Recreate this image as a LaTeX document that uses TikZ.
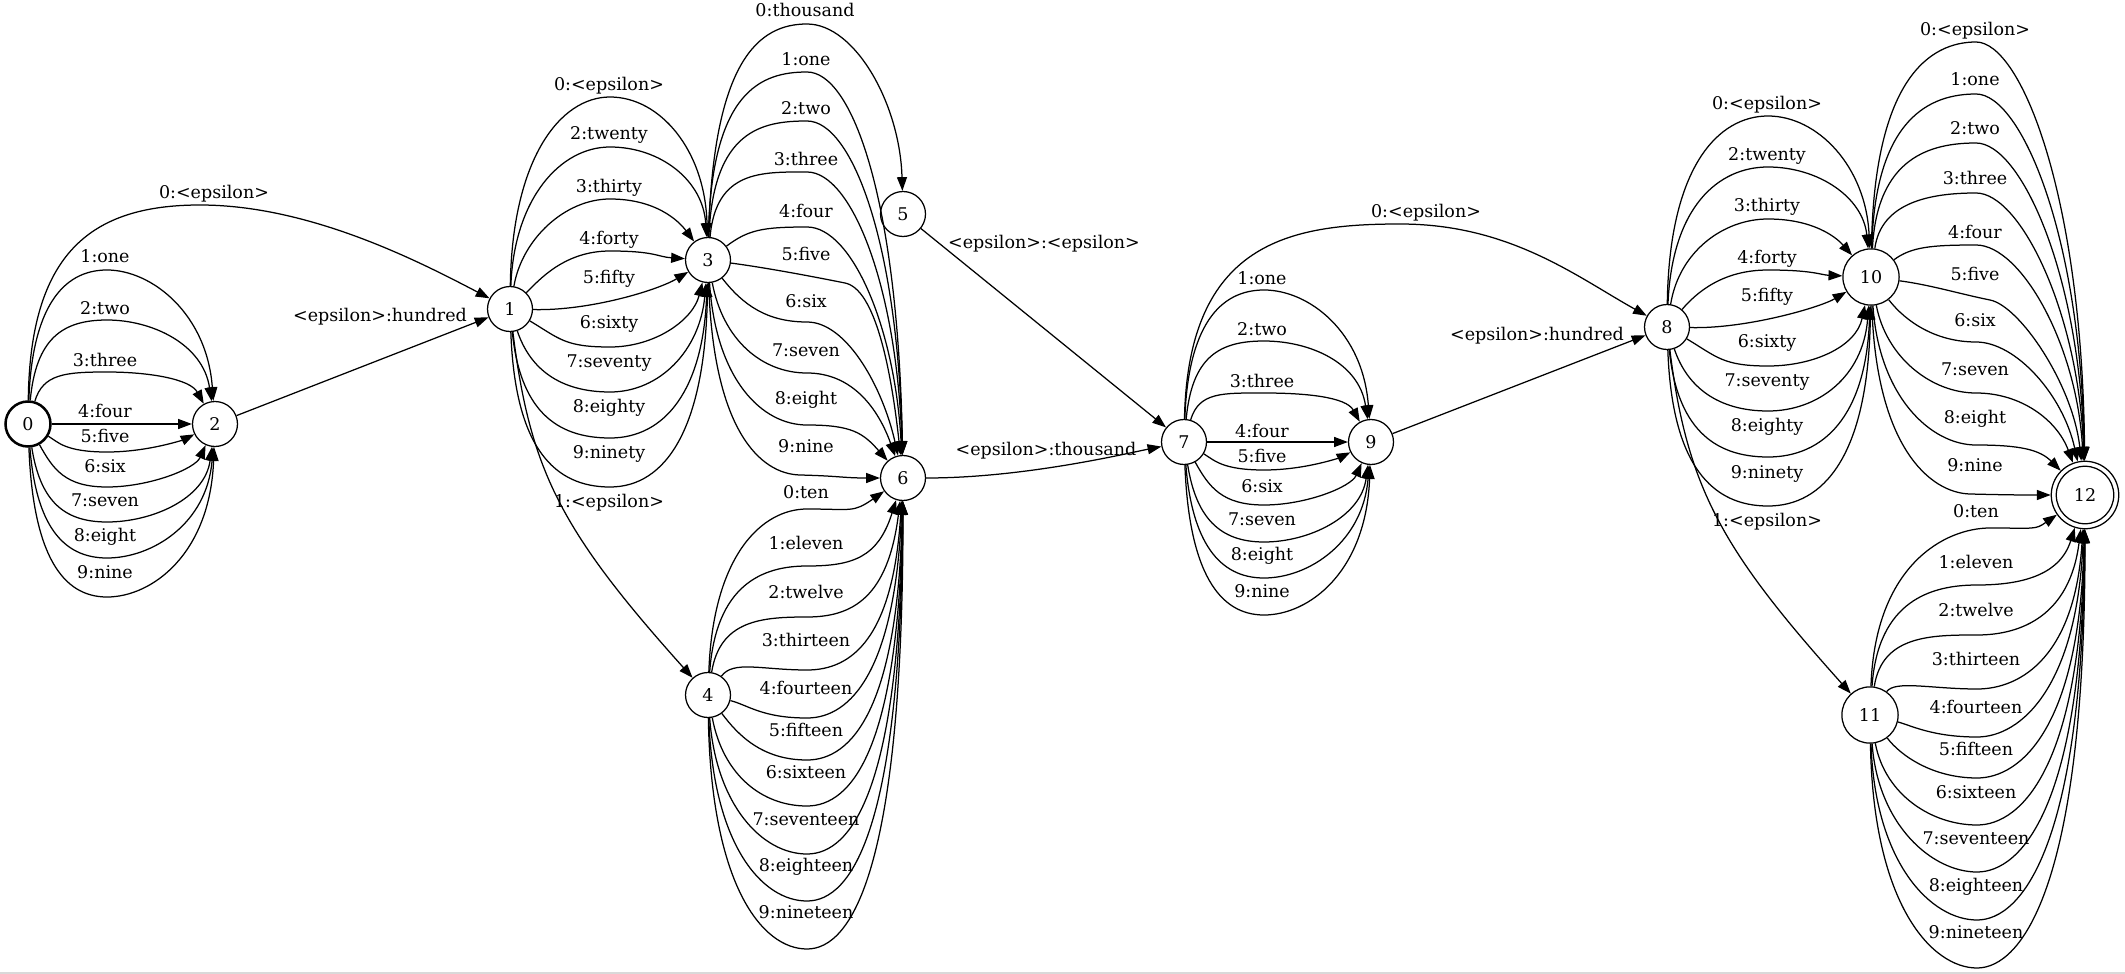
\documentclass[tikz,border=0pt]{standalone}
\usepackage{fontspec}
\setmainfont{DejaVu Serif}
\usetikzlibrary{arrows.meta}
\newcounter{lab}
% two-segment edge through an apex point
\newcommand\fe[9]{\draw[tr] (#1) .. controls +(#3) and +({-(#5)},{-(#6)}) .. (#4) .. controls +(#5,#6) and +(#7) .. (#2);
  \stepcounter{lab}\node[lb] (lab\arabic{lab}) at (#8) {#9};}
% single curve edge
\newcommand\ce[6]{\draw[tr] (#1) .. controls +(#3) and +(#4) .. (#2);
  \stepcounter{lab}\node[lb] (lab\arabic{lab}) at (#5) {#6};}
% straight edge
\newcommand\se[4]{\draw[tr] (#1) -- (#2);
  \stepcounter{lab}\node[lb] (lab\arabic{lab}) at (#3) {#4};}
\begin{document}
\begin{tikzpicture}[x=0.8pt,y=-0.8pt,
  st/.style={circle,draw,line width=1pt,minimum size=36pt,inner sep=0pt,font=\fontsize{14}{17}\selectfont},
  lb/.style={inner sep=0pt,text height=10pt,text depth=2pt,font=\fontsize{14}{17}\selectfont},
  tr/.style={draw,line width=1pt,-{Triangle[length=11pt,width=8pt]}}]
\useasboundingbox (0,0) rectangle (2125,974);
\fill[white] (0,0) rectangle (2125,974);
\fill[gray!30] (0,972) rectangle (2125,974);

\node[st,line width=2pt] (n0) at (28,424) {0};
\node[st] (n2) at (215,424) {2};
\node[st] (n1) at (510,309) {1};
\node[st] (n3) at (708,260) {3};
\node[st] (n5) at (903,214) {5};
\node[st] (n6) at (903,478) {6};
\node[st] (n4) at (708,695) {4};
\node[st] (n7) at (1184,442) {7};
\node[st] (n9) at (1371,442) {9};
\node[st] (n8) at (1667,327) {8};
\node[st,minimum size=45pt] (n10) at (1871,277) {10};
\node[st,minimum size=45pt] (n11) at (1870,715) {11};
\node[st,minimum size=54pt] (n12) at (2085,495) {12};
\node[circle,draw,line width=1pt,minimum size=46pt,inner sep=0pt] (n12in) at (n12.center) {};

% 0 -> 1, 0 -> 2
\fe{n0}{n1}{2,-170}{200,205}{110}{0}{-90,-47}{214,194}{0:<epsilon>}
\fe{n0}{n2}{4,-115}{107,270}{45}{0}{-8,-110}{105,258}{1:one}
\fe{n0}{n2}{8,-85}{107,320}{45}{0}{-12,-80}{105,309}{2:two}
\fe{n0}{n2}{15,-50}{107,372}{42}{0}{-25,-45}{105,361}{3:three}
\se{n0}{n2}{105,412}{4:four}
\fe{n0}{n2}{30,18}{107,452}{42}{0}{-30,15}{105,437}{5:five}
\fe{n0}{n2}{25,45}{107,487}{42}{0}{-20,45}{105,467}{6:six}
\fe{n0}{n2}{12,75}{107,522}{45}{0}{-10,75}{105,501}{7:seven}
\fe{n0}{n2}{8,100}{107,558}{45}{0}{-8,100}{105,536}{8:eight}
\fe{n0}{n2}{5,130}{107,597}{45}{0}{-5,130}{105,573}{9:nine}
\se{n2}{n1}{380,316}{<epsilon>:hundred}

% 1 -> 3, 1 -> 4
\fe{n1}{n3}{2,-150}{610,97}{50}{0}{-3,-110}{609,86}{0:<epsilon>}
\fe{n1}{n3}{4,-110}{610,147}{50}{0}{-5,-80}{609,135}{2:twenty}
\fe{n1}{n3}{12,-70}{610,199}{45}{0}{-30,-40}{609,188}{3:thirty}
\fe{n1}{n3}{30,-30}{610,251}{45}{0}{-50,-3}{609,240}{4:forty}
\ce{n1}{n3}{80,2}{-50,30}{609,278}{5:fifty}
\fe{n1}{n3}{50,30}{610,347}{45}{0}{-15,60}{609,323}{6:sixty}
\fe{n1}{n3}{20,60}{610,392}{50}{0}{-8,90}{609,362}{7:seventy}
\fe{n1}{n3}{10,100}{610,438}{55}{0}{-5,130}{609,407}{8:eighty}
\fe{n1}{n3}{5,140}{610,487}{55}{0}{-3,170}{609,453}{9:ninety}
\ce{n1}{n4}{20,161}{-148,-165}{609,502}{1:<epsilon>}

% 3 -> 5, 3 -> 6
\fe{n3}{n5}{5,-200}{807,24}{48}{0}{-3,-110}{805,12}{0:thousand}
\fe{n3}{n6}{3,-170}{807,72}{45}{0}{-5,-280}{806,61}{1:one}
\fe{n3}{n6}{5,-130}{807,121}{45}{0}{-5,-235}{806,110}{2:two}
\fe{n3}{n6}{8,-90}{807,172}{45}{0}{-6,-190}{806,161}{3:three}
\fe{n3}{n6}{40,-30}{807,227}{45}{0}{-8,-150}{806,213}{4:four}
\fe{n3}{n6}{60,8}{845,283}{30}{6}{-12,-110}{806,256}{5:five}
\fe{n3}{n6}{35,45}{807,322}{40}{0}{-20,-90}{806,302}{6:six}
\fe{n3}{n6}{15,80}{807,373}{45}{0}{-25,-70}{806,351}{7:seven}
\fe{n3}{n6}{8,120}{807,425}{45}{0}{-40,-45}{806,399}{8:eight}
\fe{n3}{n6}{5,170}{800,475}{40}{1}{-60,0}{806,447}{9:nine}

% 4 -> 6
\fe{n4}{n6}{5,-140}{807,509}{45}{0}{-50,35}{806,493}{0:ten}
\fe{n4}{n6}{8,-110}{807,566}{45}{0}{-25,80}{806,544}{1:eleven}
\fe{n4}{n6}{12,-75}{807,617}{45}{0}{-15,120}{806,593}{2:twelve}
\fe{n4}{n6}{25,-35}{807,670}{45}{0}{-10,160}{806,641}{3:thirteen}
\fe{n4}{n6}{40,10}{807,718}{45}{0}{-8,190}{806,689}{4:fourteen}
\fe{n4}{n6}{30,40}{807,760}{45}{0}{-5,230}{806,731}{5:fifteen}
\fe{n4}{n6}{15,80}{807,806}{45}{0}{-4,270}{806,773}{6:sixteen}
\fe{n4}{n6}{8,110}{807,854}{45}{0}{-3,310}{806,820}{7:seventeen}
\fe{n4}{n6}{5,150}{807,901}{45}{0}{-2,350}{806,866}{8:eighteen}
\fe{n4}{n6}{3,190}{807,949}{45}{0}{0,390}{806,913}{9:nineteen}

% 5 -> 7, 6 -> 7
\se{n5}{n7}{1044,244}{<epsilon>:<epsilon>}
\ce{n6}{n7}{120,0}{-60,12}{1046,450}{<epsilon>:thousand}

% 7 -> 8, 7 -> 9
\fe{n7}{n8}{4,-200}{1400,224}{110}{0}{-90,-50}{1426,213}{0:<epsilon>}
\fe{n7}{n9}{4,-115}{1264,290}{45}{0}{-8,-110}{1262,279}{1:one}
\fe{n7}{n9}{8,-85}{1264,341}{45}{0}{-12,-80}{1262,330}{2:two}
\fe{n7}{n9}{15,-50}{1264,393}{42}{0}{-25,-45}{1262,382}{3:three}
\se{n7}{n9}{1262,432}{4:four}
\fe{n7}{n9}{30,18}{1264,470}{42}{0}{-30,15}{1262,457}{5:five}
\fe{n7}{n9}{25,45}{1264,505}{42}{0}{-20,45}{1262,487}{6:six}
\fe{n7}{n9}{12,75}{1264,542}{45}{0}{-10,75}{1262,520}{7:seven}
\fe{n7}{n9}{8,100}{1264,578}{45}{0}{-8,100}{1262,555}{8:eight}
\fe{n7}{n9}{5,130}{1264,615}{45}{0}{-5,130}{1262,592}{9:nine}
\se{n9}{n8}{1537,335}{<epsilon>:hundred}

% 8 -> 10, 8 -> 11
\fe{n8}{n10}{2,-160}{1768,116}{50}{0}{-5,-110}{1767,105}{0:<epsilon>}
\fe{n8}{n10}{5,-120}{1768,167}{50}{0}{-8,-80}{1767,156}{2:twenty}
\fe{n8}{n10}{12,-75}{1768,219}{45}{0}{-35,-40}{1767,207}{3:thirty}
\fe{n8}{n10}{30,-35}{1768,270}{45}{0}{-50,-2}{1767,259}{4:forty}
\ce{n8}{n10}{80,2}{-50,30}{1767,296}{5:fifty}
\fe{n8}{n10}{50,30}{1768,366}{45}{0}{-15,70}{1767,342}{6:sixty}
\fe{n8}{n10}{20,60}{1768,411}{50}{0}{-8,100}{1767,381}{7:seventy}
\fe{n8}{n10}{10,100}{1768,457}{55}{0}{-5,140}{1767,426}{8:eighty}
\fe{n8}{n10}{5,140}{1768,506}{55}{0}{-3,180}{1767,473}{9:ninety}
\ce{n8}{n11}{20,161}{-148,-165}{1767,521}{1:<epsilon>}

% 10 -> 12
\fe{n10}{n12}{3,-200}{1976,42}{45}{0}{-3,-300}{1975,31}{0:<epsilon>}
\fe{n10}{n12}{4,-160}{1976,94}{45}{0}{-4,-260}{1975,81}{1:one}
\fe{n10}{n12}{6,-120}{1976,143}{45}{0}{-5,-220}{1975,130}{2:two}
\fe{n10}{n12}{10,-75}{1976,193}{45}{0}{-6,-180}{1975,180}{3:three}
\fe{n10}{n12}{40,-30}{1976,245}{45}{0}{-8,-150}{1975,233}{4:four}
\fe{n10}{n12}{60,8}{1990,300}{30}{6}{-12,-110}{1975,275}{5:five}
\fe{n10}{n12}{35,45}{1976,342}{40}{0}{-22,-100}{1975,321}{6:six}
\fe{n10}{n12}{15,80}{1976,393}{45}{0}{-28,-75}{1975,370}{7:seven}
\fe{n10}{n12}{8,120}{1976,445}{45}{0}{-45,-45}{1975,418}{8:eight}
\fe{n10}{n12}{5,170}{1970,494}{40}{1}{-60,0}{1975,466}{9:nine}

% 11 -> 12
\fe{n11}{n12}{5,-150}{1990,528}{45}{0}{-50,35}{1976,512}{0:ten}
\fe{n11}{n12}{8,-115}{1977,585}{45}{0}{-25,80}{1976,563}{1:eleven}
\fe{n11}{n12}{12,-80}{1977,635}{45}{0}{-15,120}{1976,611}{2:twelve}
\fe{n11}{n12}{25,-35}{1977,689}{45}{0}{-10,160}{1976,660}{3:thirteen}
\fe{n11}{n12}{40,10}{1977,737}{45}{0}{-8,190}{1976,708}{4:fourteen}
\fe{n11}{n12}{30,40}{1977,778}{45}{0}{-5,230}{1976,750}{5:fifteen}
\fe{n11}{n12}{15,80}{1977,825}{45}{0}{-4,270}{1976,793}{6:sixteen}
\fe{n11}{n12}{8,110}{1977,872}{45}{0}{-3,310}{1976,839}{7:seventeen}
\fe{n11}{n12}{5,150}{1977,920}{45}{0}{-2,350}{1976,886}{8:eighteen}
\fe{n11}{n12}{3,190}{1977,968}{45}{0}{0,390}{1976,933}{9:nineteen}
\end{tikzpicture}
\end{document}
